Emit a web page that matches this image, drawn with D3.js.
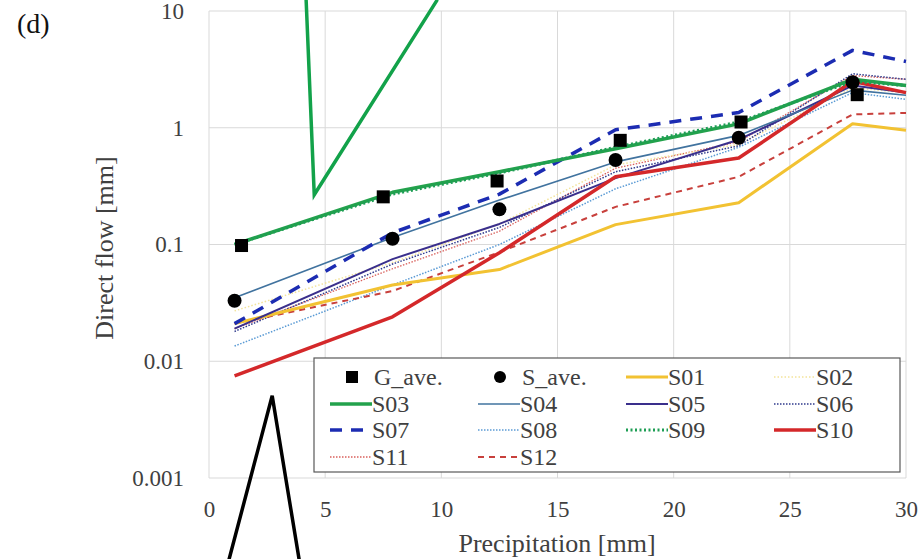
<!DOCTYPE html>
<html>
<head>
<meta charset="utf-8">
<script src="https://cdn.jsdelivr.net/npm/d3@7"></script>
<style>
  body { margin: 0; background: #fff; }
  svg text { font-family: "Liberation Serif", serif !important; }
</style>
</head>
<body>
<div id="main"></div>
<script>
// x positions of the precipitation classes
const sX = [1.1, 7.9, 12.5, 17.5, 22.8, 27.7, 30];
const gX = [1.4, 7.5, 12.4, 17.7, 22.9, 27.9];

// averages (markers)
const gAve = [0.098, 0.256, 0.35, 0.78, 1.12, 1.92];
const sAve = [0.033, 0.112, 0.2, 0.53, 0.82, 2.45];

// site series
const S01 = [0.021, 0.045, 0.061, 0.148, 0.228, 1.08, 0.95];
const S02 = [0.027, 0.07, 0.15, 0.48, 0.72, 2.2, 2.0];
const S03 = [0.1, 0.28, 0.42, 0.66, 1.08, 2.6, 2.3];
const S04 = [0.035, 0.115, 0.24, 0.51, 0.86, 2.1, 1.9];
const S05 = [0.019, 0.075, 0.15, 0.37, 0.79, 2.3, 2.0];
const S06 = [0.018, 0.068, 0.14, 0.42, 0.7, 2.9, 2.6];
const S07 = [0.021, 0.126, 0.27, 0.96, 1.35, 4.6, 3.7];
const S08 = [0.0135, 0.045, 0.1, 0.3, 0.68, 2.0, 1.75];
const S09 = [0.1, 0.27, 0.41, 0.68, 1.12, 2.5, 2.3];
const S10 = [0.0075, 0.024, 0.085, 0.38, 0.55, 2.5, 2.0];
const S11 = [0.019, 0.062, 0.13, 0.45, 0.76, 2.8, 2.6];
const S12 = [0.021, 0.04, 0.086, 0.21, 0.38, 1.3, 1.34];

const xTicks = [0, 5, 10, 15, 20, 25, 30];
const yTicks = [0.001, 0.01, 0.1, 1, 10];

// callout lines drawn over the chart (data units)
const greenCallout = [[4.18, 12.5], [4.53, 0.267], [9.83, 12.5]];
const blackCallout = [[0.86, 0.0002], [2.72, 0.00506], [3.88, 0.0002]];

const FONT = "Liberation Serif";
const ctx = { width: 923, height: 559, left: 209, right: 906, top: 11, bottom: 478 };

const styles = {
  S01: { data: S01, color: "#f2c232", w: 3, dash: null },
  S02: { data: S02, color: "#f3e39a", w: 1.5, dash: "1.5,2" },
  S03: { data: S03, color: "#23a24c", w: 3.5, dash: null },
  S04: { data: S04, color: "#41739f", w: 1.6, dash: null },
  S05: { data: S05, color: "#3a2f8c", w: 2, dash: null },
  S06: { data: S06, color: "#2f3a8c", w: 1.5, dash: "1.5,1.5" },
  S07: { data: S07, color: "#1c2cb2", w: 3.5, dash: "12,9" },
  S08: { data: S08, color: "#5b9bd5", w: 1.5, dash: "1.5,1.5" },
  S09: { data: S09, color: "#1e9e55", w: 3, dash: "2,2.5" },
  S10: { data: S10, color: "#d4282a", w: 3.5, dash: null },
  S11: { data: S11, color: "#d9605c", w: 1.3, dash: "1.5,1.5" },
  S12: { data: S12, color: "#c8403c", w: 2, dash: "6,5" }
};

const svg = d3.select("#main").append("svg")
  .attr("width", ctx.width).attr("height", ctx.height)
  .attr("font-family", FONT);

const x = d3.scaleLinear().domain([0, 30]).range([ctx.left, ctx.right]);
const y = d3.scaleLog().domain([0.001, 10]).range([ctx.bottom, ctx.top]);

// gridlines
svg.append("g").selectAll("line").data(xTicks).join("line")
  .attr("x1", d => x(d)).attr("x2", d => x(d))
  .attr("y1", ctx.top).attr("y2", ctx.bottom)
  .attr("stroke", "#d9d9d9").attr("stroke-width", 1);
svg.append("g").selectAll("line").data(yTicks).join("line")
  .attr("x1", ctx.left).attr("x2", ctx.right)
  .attr("y1", d => y(d)).attr("y2", d => y(d))
  .attr("stroke", "#d9d9d9").attr("stroke-width", 1);

// axes (labels only)
const xAxis = svg.append("g").attr("transform", `translate(0,${ctx.bottom + 20})`)
  .call(d3.axisBottom(x).tickValues(xTicks).tickSize(0).tickFormat(d3.format("d")));
xAxis.select(".domain").remove();

const yAxis = svg.append("g").attr("transform", `translate(${ctx.left - 22},0)`)
  .call(d3.axisLeft(y).tickValues(yTicks).tickSize(0).tickFormat(d => String(d)));
yAxis.select(".domain").remove();

xAxis.attr("font-family", FONT).attr("font-size", 23);
yAxis.attr("font-family", FONT).attr("font-size", 23);
svg.selectAll(".tick text").attr("fill", "#404040");
xAxis.selectAll("text").attr("dy", "0.71em");

svg.append("text").attr("x", 557).attr("y", 552).attr("text-anchor", "middle")
  .attr("font-size", 26).attr("fill", "#404040").text("Precipitation [mm]");
svg.append("text").attr("transform", "translate(113,248) rotate(-90)").attr("text-anchor", "middle")
  .attr("font-size", 26).attr("fill", "#404040").text("Direct flow [mm]");
svg.append("text").attr("x", 17).attr("y", 33).attr("font-size", 28)
  .attr("fill", "#111").text("(d)");

// clip
svg.append("clipPath").attr("id", "plotClip").append("rect")
  .attr("x", ctx.left).attr("y", ctx.top - 2)
  .attr("width", ctx.right - ctx.left + 1).attr("height", ctx.bottom - ctx.top + 4);

const line = d3.line().x(d => x(d[0])).y(d => y(d[1]));
const plot = svg.append("g").attr("clip-path", "url(#plotClip)");

const order = ["S11", "S02", "S06", "S08", "S12", "S01", "S05", "S04", "S10", "S07", "S03", "S09"];
order.forEach(k => {
  const s = styles[k];
  plot.append("path")
    .datum(sX.map((v, i) => [v, s.data[i]]))
    .attr("d", line)
    .attr("fill", "none")
    .attr("stroke", s.color)
    .attr("stroke-width", s.w)
    .attr("stroke-dasharray", s.dash)
    .attr("stroke-linejoin", "round");
});

// markers
plot.append("g").selectAll("rect").data(gX.map((v, i) => [v, gAve[i]])).join("rect")
  .attr("x", d => x(d[0]) - 6.5).attr("y", d => y(d[1]) - 6.5)
  .attr("width", 13).attr("height", 13).attr("fill", "#000");
plot.append("g").selectAll("circle").data(sX.slice(0, 6).map((v, i) => [v, sAve[i]])).join("circle")
  .attr("cx", d => x(d[0])).attr("cy", d => y(d[1])).attr("r", 7).attr("fill", "#000");

// legend
const lg = svg.append("g").attr("font-family", FONT).attr("font-size", 24);
lg.append("rect").attr("x", 314).attr("y", 358).attr("width", 586).attr("height", 114)
  .attr("fill", "#fff").attr("stroke", "#595959").attr("stroke-width", 1.2);

const legendItems = ["G_ave.", "S_ave.", "S01", "S02", "S03", "S04", "S05", "S06",
  "S07", "S08", "S09", "S10", "S11", "S12"];
const colX = [330, 478, 626, 774];
const rowY = [377, 404, 430, 457];
legendItems.forEach((name, i) => {
  const cx = colX[i % 4], cy = rowY[Math.floor(i / 4)];
  if (name === "G_ave.") {
    lg.append("rect").attr("x", cx + 22 - 6).attr("y", cy - 6).attr("width", 12).attr("height", 12).attr("fill", "#000");
  } else if (name === "S_ave.") {
    lg.append("circle").attr("cx", cx + 22).attr("cy", cy).attr("r", 6).attr("fill", "#000");
  } else {
    const s = styles[name];
    lg.append("line").attr("x1", cx).attr("x2", cx + 42).attr("y1", cy).attr("y2", cy)
      .attr("stroke", s.color).attr("stroke-width", s.w).attr("stroke-dasharray", s.dash);
  }
  lg.append("text").attr("x", cx + (i < 2 ? 44 : 42)).attr("y", cy).attr("dy", "0.35em")
    .attr("fill", "#404040").text(name);
});

// callouts
const cl = d3.line().x(d => x(d[0])).y(d => y(d[1]));
svg.append("path").datum(greenCallout).attr("d", cl).attr("fill", "none")
  .attr("stroke", "#12a24a").attr("stroke-width", 3.5);
svg.append("path").datum(blackCallout).attr("d", cl).attr("fill", "none")
  .attr("stroke", "#000").attr("stroke-width", 3.5);
</script>
</body>
</html>
